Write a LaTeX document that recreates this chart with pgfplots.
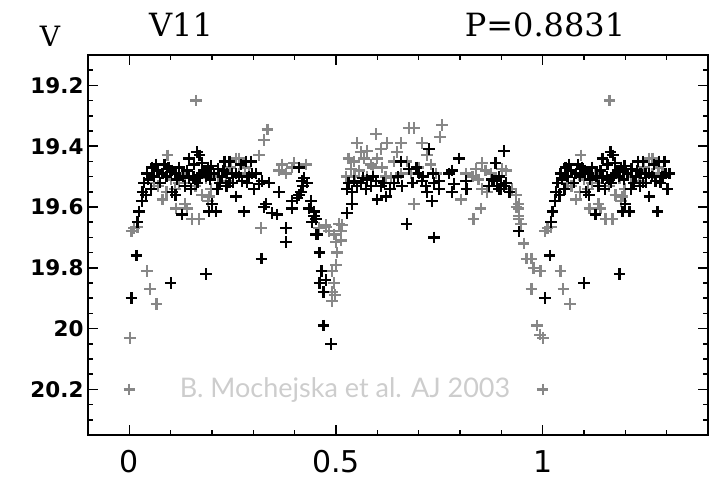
\documentclass[border=0pt]{standalone}
\usepackage{fontspec}
\usepackage{pgfplots}
\pgfplotsset{compat=1.18}
\usepackage{pgfplotstable}
\setmainfont{DejaVu Sans}
\newfontfamily\titlefont{DejaVu Serif}
\newfontfamily\wmfont{Lato}
\definecolor{mgray}{RGB}{135,135,135}
\definecolor{wm}{RGB}{205,205,205}

\pgfplotstableread{
p m
0.000 20.20
0.001 20.03
0.994 20.02
0.987 19.99
0.005 19.68
0.020 19.665
0.012 19.67
0.043 19.81
0.050 19.87
0.066 19.92
0.973 19.87
0.995 19.81
0.978 19.80
0.961 19.77
0.973 19.77
0.954 19.72
0.947 19.655
0.942 19.63
0.937 19.60
0.942 19.605
0.942 19.64
0.942 19.59
0.935 19.56
0.925 19.54
0.092 19.43
0.100 19.51
0.120 19.52
0.080 19.575
0.113 19.605
0.140 19.605
0.152 19.64
0.169 19.64
0.176 19.56
0.193 19.565
0.198 19.54
0.128 19.49
0.186 19.505
0.162 19.25
0.234 19.515
0.266 19.49
0.266 19.44
0.258 19.44
0.060 19.52
0.070 19.53
0.090 19.55
0.110 19.54
0.135 19.52
0.160 19.53
0.215 19.50
0.245 19.47
0.280 19.47
0.290 19.49
0.135 19.59
0.190 19.58
0.314 19.43
0.326 19.38
0.334 19.345
0.319 19.67
0.362 19.48
0.370 19.46
0.379 19.49
0.394 19.47
0.399 19.455
0.428 19.46
0.459 19.67
0.476 19.665
0.483 19.68
0.500 19.715
0.475 19.66
0.515 19.66
0.495 19.69
0.512 19.71
0.502 19.75
0.500 19.79
0.490 19.81
0.495 19.85
0.490 19.88
0.490 19.91
0.497 19.89
0.507 19.655
0.512 19.68
0.536 19.475
0.543 19.45
0.551 19.39
0.556 19.48
0.568 19.44
0.575 19.415
0.575 19.50
0.585 19.46
0.597 19.36
0.609 19.41
0.623 19.39
0.633 19.505
0.657 19.39
0.657 19.49
0.671 19.45
0.676 19.34
0.681 19.49
0.688 19.34
0.688 19.59
0.700 19.47
0.708 19.39
0.720 19.43
0.729 19.46
0.756 19.33
0.752 19.37
0.525 19.50
0.530 19.44
0.560 19.42
0.590 19.47
0.612 19.47
0.640 19.45
0.648 19.42
0.545 19.50
0.600 19.44
0.620 19.50
0.742 19.49
0.802 19.575
0.814 19.49
0.833 19.64
0.838 19.475
0.850 19.605
0.853 19.455
0.853 19.54
0.862 19.48
0.865 19.55
0.901 19.475
0.911 19.48
0.830 19.50
0.845 19.51
0.875 19.49
}\graydata

\pgfplotstableread{
p m
0.005 19.90
0.017 19.76
0.100 19.85
0.186 19.82
0.942 19.68
0.020 19.65
0.024 19.615
0.030 19.58
0.032 19.55
0.036 19.52
0.043 19.49
0.041 19.56
0.053 19.54
0.055 19.47
0.068 19.48
0.080 19.49
0.085 19.46
0.104 19.55
0.112 19.56
0.128 19.625
0.145 19.44
0.145 19.505
0.150 19.54
0.157 19.46
0.164 19.42
0.170 19.43
0.176 19.49
0.181 19.48
0.193 19.615
0.198 19.465
0.200 19.59
0.210 19.615
0.213 19.54
0.230 19.45
0.237 19.49
0.242 19.45
0.242 19.52
0.249 19.49
0.258 19.49
0.258 19.565
0.273 19.515
0.278 19.615
0.282 19.45
0.295 19.45
0.297 19.49
0.060 19.50
0.075 19.52
0.090 19.50
0.095 19.47
0.110 19.49
0.115 19.51
0.120 19.47
0.130 19.50
0.135 19.53
0.140 19.48
0.155 19.50
0.165 19.52
0.175 19.455
0.185 19.50
0.190 19.47
0.205 19.49
0.215 19.475
0.220 19.52
0.225 19.50
0.235 19.53
0.250 19.52
0.265 19.50
0.270 19.46
0.285 19.52
0.290 19.50
0.046 19.51
0.064 19.46
0.102 19.48
0.160 19.51
0.170 19.50
0.196 19.51
0.228 19.48
0.302 19.54
0.307 19.49
0.314 19.525
0.321 19.515
0.326 19.60
0.331 19.59
0.338 19.52
0.345 19.62
0.358 19.625
0.362 19.55
0.379 19.67
0.379 19.715
0.320 19.77
0.394 19.58
0.394 19.605
0.406 19.57
0.411 19.56
0.411 19.47
0.415 19.55
0.418 19.515
0.423 19.505
0.430 19.52
0.435 19.605
0.440 19.58
0.442 19.65
0.447 19.615
0.452 19.64
0.452 19.69
0.447 19.63
0.455 19.69
0.460 19.75
0.465 19.81
0.475 19.84
0.470 19.88
0.460 19.85
0.470 19.99
0.488 20.05
0.527 19.62
0.538 19.59
0.420 19.53
0.527 19.54
0.539 19.55
0.543 19.515
0.560 19.52
0.572 19.54
0.575 19.51
0.597 19.515
0.600 19.575
0.609 19.53
0.621 19.565
0.657 19.45
0.671 19.655
0.676 19.475
0.700 19.49
0.708 19.515
0.717 19.53
0.725 19.41
0.732 19.58
0.737 19.52
0.737 19.70
0.749 19.54
0.749 19.515
0.530 19.52
0.550 19.53
0.565 19.505
0.585 19.53
0.590 19.50
0.615 19.52
0.630 19.54
0.640 19.52
0.650 19.50
0.660 19.53
0.685 19.52
0.695 19.47
0.710 19.50
0.720 19.55
0.735 19.49
0.773 19.49
0.780 19.48
0.780 19.55
0.785 19.525
0.797 19.44
0.814 19.515
0.816 19.54
0.870 19.53
0.877 19.51
0.882 19.515
0.886 19.455
0.889 19.53
0.894 19.54
0.899 19.54
0.900 19.525
0.895 19.50
0.906 19.415
0.906 19.53
0.911 19.52
0.920 19.55
}\blackdata

\begin{document}
\begin{tikzpicture}
\useasboundingbox (0,0) rectangle (718bp,488bp);
\begin{axis}[
  at={(88bp,53bp)}, anchor=south west,
  scale only axis, width=620bp, height=380bp,
  xmin=-0.1, xmax=1.4, ymin=19.1, ymax=20.35,
  y dir=reverse,
  axis line style={line width=2bp},
  tick align=inside,
  tick style={line width=1.5bp, black},
  major tick length=10bp, minor tick length=5bp,
  xtick={0,0.5,1}, xticklabels={0,0.5,1},
  minor xtick={0.1,0.2,0.3,0.4,0.6,0.7,0.8,0.9,1.1,1.2,1.3},
  ytick={19.2,19.4,19.6,19.8,20,20.2},
  yticklabels={19.2,19.4,19.6,19.8,20,20.2},
  minor ytick={19.15,19.25,19.3,19.35,19.45,19.5,19.55,19.65,19.7,19.75,19.85,19.9,19.95,20.05,20.1,20.15,20.25,20.3},
  /pgf/number format/assume math mode=true,
  yticklabel style={font=\fontsize{21.5bp}{24bp}\selectfont\bfseries, xshift=-1bp},
  xticklabel style={font=\fontsize{30bp}{36bp}\selectfont, yshift=-12bp},
  every axis plot/.append style={only marks, mark=+, mark size=5.8bp, line width=2.3bp},
  clip=true,
]
\addplot[mgray] table[x=p,y=m] {\graydata};
\addplot[mgray, restrict x to domain=1:1.31] table[x expr=\thisrow{p}+1,y=m] {\graydata};
\addplot[black] table[x=p,y=m] {\blackdata};
\addplot[black, restrict x to domain=1:1.31] table[x expr=\thisrow{p}+1,y=m] {\blackdata};
\end{axis}
\node[font=\titlefont\fontsize{28bp}{32bp}\selectfont] at (50bp,452bp) {V};
\node[font=\titlefont\fontsize{32bp}{36bp}\selectfont] at (181bp,463bp) {V11};
\node[font=\titlefont\fontsize{32bp}{36bp}\selectfont] at (545bp,463bp) {P=0.8831};
\node[font=\wmfont\fontsize{27bp}{32bp}\selectfont, text=wm] at (345bp,98bp) {B. Mochejska et al. AJ 2003};
\end{tikzpicture}
\end{document}
